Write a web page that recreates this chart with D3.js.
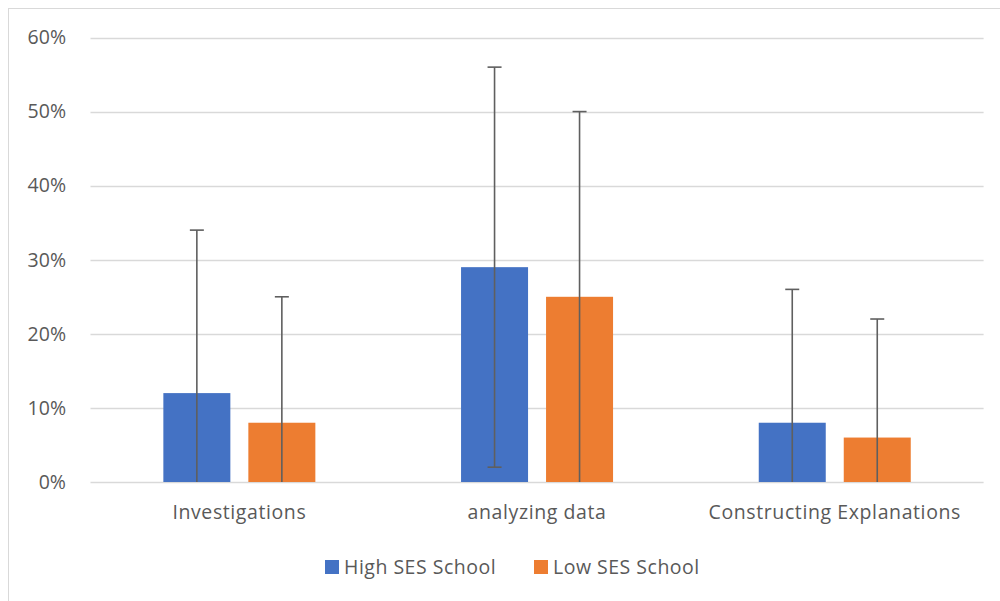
<!DOCTYPE html>
<html>
<head>
<meta charset="utf-8">
<script src="https://cdn.jsdelivr.net/npm/d3@7"></script>
<style>
  html, body { margin: 0; padding: 0; background: #fff; }
  svg { display: block; }
  text { font-family: "Open Sans", "Noto Sans", sans-serif; }
</style>
</head>
<body>
<svg id="chart" width="1000" height="601"></svg>
<script>
const categories = ["Investigations", "analyzing data", "Constructing Explanations"];
const seriesNames = ["High SES School", "Low SES School"];
const seriesColors = ["#4472C4", "#ED7D31"];
const highValues = [0.12, 0.29, 0.08];
const lowValues = [0.08, 0.25, 0.06];
const highErrorTop = [0.34, 0.56, 0.26];
const highErrorBottom = [0, 0.02, 0];
const lowErrorTop = [0.25, 0.50, 0.22];
const lowErrorBottom = [0, 0, 0];
const yTicks = [0, 0.1, 0.2, 0.3, 0.4, 0.5, 0.6];
const yTickLabels = ["0%", "10%", "20%", "30%", "40%", "50%", "60%"];

const svg = d3.select("#chart");
const textColor = "#595959";
const fs = 19.5;
const ls = "0.6px";

// chart frame (left and top edges visible)
svg.append("line").attr("x1", 8.5).attr("x2", 8.5).attr("y1", 8).attr("y2", 601)
  .attr("stroke", "#d9d9d9").attr("stroke-width", 1);
svg.append("line").attr("x1", 8).attr("x2", 1000).attr("y1", 8.5).attr("y2", 8.5)
  .attr("stroke", "#d9d9d9").attr("stroke-width", 1);

const plotLeft = 90.5, plotRight = 983.6, plotTop = 37.5, plotBottom = 482;

const y = d3.scaleLinear().domain([0, 0.6]).range([plotBottom, plotTop]);
const x0 = d3.scaleBand().domain(categories).range([plotLeft, plotRight]).padding(0);
const groupW = 152;
const x1 = d3.scaleBand().domain(seriesNames)
  .range([(x0.bandwidth() - groupW) / 2, (x0.bandwidth() + groupW) / 2])
  .paddingInner(18 / 85).paddingOuter(0);

// gridlines
svg.append("g").selectAll("line").data(yTicks).join("line")
  .attr("x1", plotLeft).attr("x2", plotRight)
  .attr("y1", d => Math.round(y(d)) + 0.5).attr("y2", d => Math.round(y(d)) + 0.5)
  .attr("stroke", "#d9d9d9").attr("stroke-width", 1.3);

// y tick labels
const yAxis = d3.axisLeft(y).tickValues(yTicks).tickFormat((d, i) => yTickLabels[i]).tickSize(0).tickPadding(0);
const yg = svg.append("g").attr("transform", "translate(66,0)").call(yAxis);
yg.select(".domain").remove();
yg.selectAll("text").attr("font-size", fs).attr("fill", textColor)
  .attr("font-family", "'Open Sans', sans-serif");

const data = categories.map((c, i) => ({
  cat: c,
  vals: [
    { s: seriesNames[0], v: highValues[i], top: highErrorTop[i], bot: highErrorBottom[i], color: seriesColors[0] },
    { s: seriesNames[1], v: lowValues[i], top: lowErrorTop[i], bot: lowErrorBottom[i], color: seriesColors[1] }
  ]
}));

const groups = svg.append("g").selectAll("g").data(data).join("g")
  .attr("transform", d => `translate(${x0(d.cat)},0)`);

groups.selectAll("rect").data(d => d.vals).join("rect")
  .attr("x", d => x1(d.s)).attr("width", x1.bandwidth())
  .attr("y", d => y(d.v)).attr("height", d => y(0) - y(d.v))
  .attr("fill", d => d.color);

// error bars
const eb = groups.selectAll("g.eb").data(d => d.vals).join("g").attr("class", "eb");
const ebColor = "#5f5f5f";
eb.append("line")
  .attr("x1", d => x1(d.s) + x1.bandwidth() / 2).attr("x2", d => x1(d.s) + x1.bandwidth() / 2)
  .attr("y1", d => y(d.top)).attr("y2", d => y(d.bot))
  .attr("stroke", ebColor).attr("stroke-width", 1.6);
eb.append("line")
  .attr("x1", d => x1(d.s) + x1.bandwidth() / 2 - 7).attr("x2", d => x1(d.s) + x1.bandwidth() / 2 + 7)
  .attr("y1", d => y(d.top)).attr("y2", d => y(d.top))
  .attr("stroke", ebColor).attr("stroke-width", 1.6);
eb.filter(d => d.bot > 0).append("line")
  .attr("x1", d => x1(d.s) + x1.bandwidth() / 2 - 7).attr("x2", d => x1(d.s) + x1.bandwidth() / 2 + 7)
  .attr("y1", d => y(d.bot)).attr("y2", d => y(d.bot))
  .attr("stroke", ebColor).attr("stroke-width", 1.6);

// category labels
const xAxis = d3.axisBottom(x0).tickSize(0).tickPadding(0);
const xg = svg.append("g").attr("transform", `translate(0,${plotBottom})`).call(xAxis);
xg.select(".domain").remove();
xg.selectAll("text").attr("font-size", fs).attr("fill", textColor)
  .attr("font-family", "'Open Sans', sans-serif")
  .attr("letter-spacing", ls)
  .attr("dy", null).attr("y", 37);

// legend
const legendItems = [
  { name: seriesNames[0], color: seriesColors[0], x: 325 },
  { name: seriesNames[1], color: seriesColors[1], x: 534 }
];
const lg = svg.append("g").selectAll("g").data(legendItems).join("g")
  .attr("transform", d => `translate(${d.x},0)`);
lg.append("rect").attr("x", 0).attr("y", 560).attr("width", 14).attr("height", 14)
  .attr("fill", d => d.color);
lg.append("text").attr("x", 19).attr("y", 574).attr("font-size", fs).attr("fill", textColor)
  .attr("letter-spacing", "0.5px")
  .text(d => d.name);
</script>
</body>
</html>
